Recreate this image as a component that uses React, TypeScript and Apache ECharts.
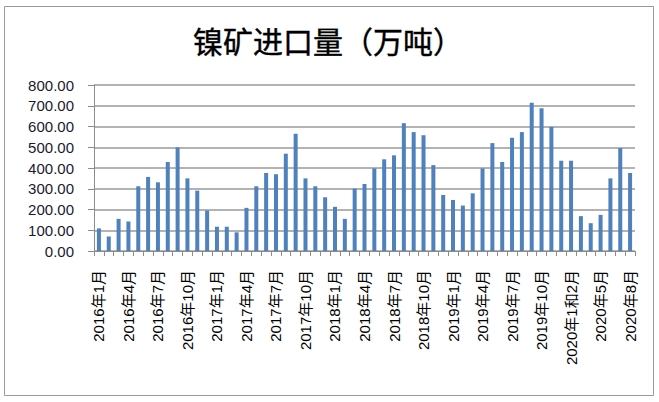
import React, { useEffect, useRef } from "react";
import * as echarts from "echarts";

const categories: string[] = [
  "2016年1月", "2016年2月", "2016年3月", "2016年4月", "2016年5月", "2016年6月",
  "2016年7月", "2016年8月", "2016年9月", "2016年10月", "2016年11月", "2016年12月",
  "2017年1月", "2017年2月", "2017年3月", "2017年4月", "2017年5月", "2017年6月",
  "2017年7月", "2017年8月", "2017年9月", "2017年10月", "2017年11月", "2017年12月",
  "2018年1月", "2018年2月", "2018年3月", "2018年4月", "2018年5月", "2018年6月",
  "2018年7月", "2018年8月", "2018年9月", "2018年10月", "2018年11月", "2018年12月",
  "2019年1月", "2019年2月", "2019年3月", "2019年4月", "2019年5月", "2019年6月",
  "2019年7月", "2019年8月", "2019年9月", "2019年10月", "2019年11月", "2019年12月",
  "2020年1和2月", "2020年3月", "2020年4月", "2020年5月", "2020年6月", "2020年7月",
  "2020年8月",
];

const imports: number[] = [
  109, 70, 155, 142, 312, 357, 331, 429, 499, 350, 291, 195,
  117, 117, 90, 208, 312, 376, 370, 469, 565, 350, 312, 259,
  213, 155, 301, 323, 398, 442, 461, 616, 573, 558, 414, 270,
  246, 219, 278, 398, 520, 429, 546, 573, 714, 688, 598, 435,
  435, 168, 134, 174, 350, 496, 376,
];

const titleText = "镍矿进口量（万吨）";
const yMin = 0;
const yMax = 800;
const yInterval = 100;

export default function App() {
  const ref = useRef<HTMLDivElement>(null);
  useEffect(() => {
    if (!ref.current) return;
    const chart = echarts.init(ref.current, undefined, { renderer: "svg" });
    chart.setOption({
      animation: false,
      backgroundColor: "#ffffff",
      graphic: [
        {
          type: "rect",
          shape: { x: 4.5, y: 6.5, width: 649, height: 389 },
          style: { fill: "none", stroke: "#9a9a9a", lineWidth: 1 },
          silent: true,
        },
        {
          type: "text",
          x: 328,
          y: 40,
          style: {
            text: titleText,
            fontSize: 30,
            fontWeight: "normal",
            fontFamily: "'Noto Sans CJK SC', sans-serif",
            fill: "#000000",
            textAlign: "center",
            textVerticalAlign: "middle",
            stroke: "#000000",
            lineWidth: 0.4,
          },
        },
      ],
      grid: { left: 94, right: 24, top: 85, bottom: 151, containLabel: false },
      xAxis: {
        type: "category",
        data: categories,
        boundaryGap: true,
        axisLine: { show: true, lineStyle: { color: "#8c8c8c", width: 1 } },
        axisTick: { show: true, alignWithLabel: false, interval: 0, length: 5, lineStyle: { color: "#8c8c8c" } },
        axisLabel: {
          interval: 2,
          rotate: 90,
          margin: 19,
          fontSize: 15,
          color: "#000000",
          fontFamily: "'Liberation Sans', 'Noto Sans CJK SC', sans-serif",
        },
        splitLine: { show: false },
      },
      yAxis: {
        type: "value",
        min: yMin,
        max: yMax,
        interval: yInterval,
        axisLine: { show: true, lineStyle: { color: "#8c8c8c", width: 1 } },
        axisTick: { show: true, length: 6, lineStyle: { color: "#8c8c8c" } },
        axisLabel: {
          margin: 20,
          fontSize: 15,
          color: "#1a1a2e",
          fontFamily: "'Liberation Sans', Arial, sans-serif",
          formatter: (v: number) => v.toFixed(2),
        },
        splitLine: { show: true, lineStyle: { color: "#9a9a9a", width: 1.5 } },
      },
      series: [
        {
          type: "bar",
          data: imports,
          barWidth: 4,
          itemStyle: { color: "#4f81bd" },
        },
      ],
    });
    return () => chart.dispose();
  }, []);
  return (
    <div style={{ position: "fixed", left: 0, top: 0, width: 659, height: 402, background: "#fff" }}>
      <div ref={ref} style={{ width: 659, height: 402 }} />
    </div>
  );
}
